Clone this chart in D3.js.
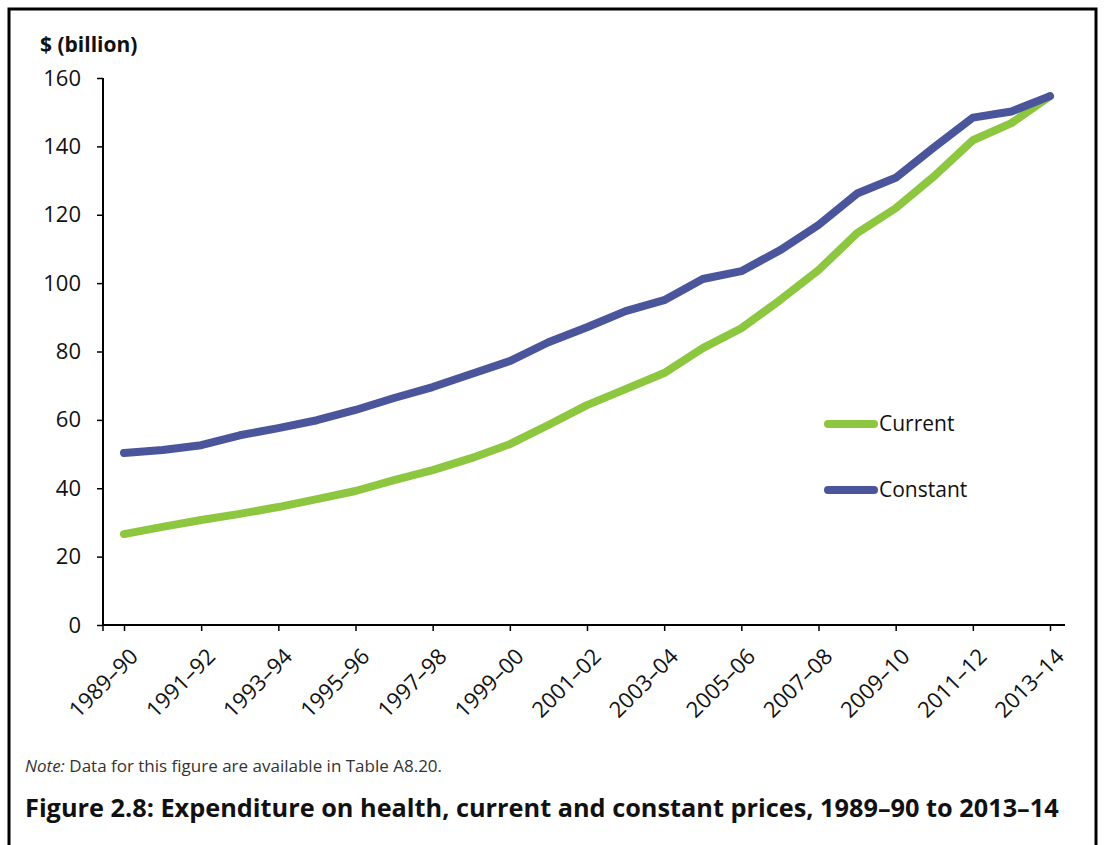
<!DOCTYPE html>
<html>
<head>
<meta charset="utf-8">
<script src="https://cdn.jsdelivr.net/npm/d3@7"></script>
<style>
  body { margin: 0; background: #fff; }
  svg { font-family: "Open Sans", "Noto Sans", sans-serif; }
</style>
</head>
<body>
<div id="chart"></div>
<script>
// years along the x axis
var years = ["1989–90","1990–91","1991–92","1992–93","1993–94","1994–95","1995–96","1996–97",
  "1997–98","1998–99","1999–00","2000–01","2001–02","2002–03","2003–04","2004–05","2005–06",
  "2006–07","2007–08","2008–09","2009–10","2010–11","2011–12","2012–13","2013–14"];

// $ billion
var current = [26.6,28.7,30.7,32.5,34.5,36.8,39.2,42.4,45.3,48.8,52.9,58.5,64.3,69.0,73.7,
  81.0,86.8,95.0,103.8,114.6,121.9,131.3,141.8,146.8,154.7];
var constant = [50.3,51.2,52.6,55.5,57.6,59.9,62.9,66.4,69.6,73.4,77.2,82.7,87.1,91.8,95.0,
  101.2,103.5,109.6,117.0,126.2,130.8,139.8,148.4,150.2,154.7];

var yTicks = [0,20,40,60,80,100,120,140,160];

var width = 1104, height = 845;
var green = "#8dc63f", blue = "#4a559c";
var font = "'Open Sans', 'Noto Sans', sans-serif";

var svg = d3.select("#chart").append("svg")
  .attr("width", width)
  .attr("height", height);

// frame, open at the bottom
svg.append("path")
  .attr("d", "M9,845 V9 H1096 V845")
  .attr("fill", "none")
  .attr("stroke", "#000")
  .attr("stroke-width", 3);

var x = d3.scalePoint().domain(years).range([124, 1050]);
var y = d3.scaleLinear().domain([0, 160]).range([625, 78]);

// y axis
var yAxis = svg.append("g")
  .attr("transform", "translate(103,0)")
  .call(d3.axisLeft(y).tickValues(yTicks).tickSize(6).tickPadding(16))
  .attr("font-family", font);
yAxis.select(".domain").attr("stroke-width", 2).attr("d", "M0,78 V625");
yAxis.selectAll(".tick line").attr("stroke-width", 1.5);
yAxis.selectAll("text").attr("font-size", 22).attr("fill", "#111");

// x axis
var labelled = years.filter(function (d, i) { return i % 2 == 0; });
var xAxis = svg.append("g")
  .attr("transform", "translate(0,625)")
  .call(d3.axisBottom(x).tickValues(labelled).tickSize(6).tickPadding(6))
  .attr("font-family", font);
xAxis.select(".domain").attr("stroke-width", 2).attr("d", "M103,0 H1065");
xAxis.selectAll(".tick line").attr("stroke-width", 1.5);
xAxis.append("line")
  .attr("x1", 103).attr("x2", 103).attr("y1", 0).attr("y2", 6)
  .attr("stroke", "#000").attr("stroke-width", 1.5);
xAxis.selectAll("text")
  .attr("font-size", 22)
  .attr("fill", "#111")
  .attr("text-anchor", "end")
  .attr("dy", "0.35em")
  .attr("transform", "translate(1,19) rotate(-45)");

// lines
var line = d3.line()
  .x(function (d, i) { return x(years[i]); })
  .y(function (d) { return y(d); });

[[current, green], [constant, blue]].forEach(function (s) {
  svg.append("path")
    .datum(s[0])
    .attr("d", line)
    .attr("fill", "none")
    .attr("stroke", s[1])
    .attr("stroke-width", 8)
    .attr("stroke-linecap", "round")
    .attr("stroke-linejoin", "round");
});

// legend
var legend = [["Current", green, 424], ["Constant", blue, 490]];
legend.forEach(function (l) {
  svg.append("line")
    .attr("x1", 828).attr("x2", 874)
    .attr("y1", l[2]).attr("y2", l[2])
    .attr("stroke", l[1]).attr("stroke-width", 8)
    .attr("stroke-linecap", "round");
  svg.append("text")
    .attr("x", 879).attr("y", l[2])
    .attr("dy", "0.35em")
    .attr("font-size", 21)
    .attr("fill", "#111")
    .text(l[0]);
});

// axis title
svg.append("text")
  .attr("x", 40).attr("y", 52)
  .attr("font-size", 21)
  .attr("font-weight", "bold")
  .attr("fill", "#111")
  .text("$ (billion)");

// note and caption
var note = svg.append("text")
  .attr("x", 25).attr("y", 772)
  .attr("font-size", 17)
  .attr("fill", "#333");
note.append("tspan").attr("font-style", "italic").text("Note:");
note.append("tspan").text(" Data for this figure are available in Table A8.20.");

svg.append("text")
  .attr("x", 25).attr("y", 817)
  .attr("font-size", 25.3)
  .attr("font-weight", "bold")
  .attr("fill", "#111")
  .text("Figure 2.8: Expenditure on health, current and constant prices, 1989–90 to 2013–14");
</script>
</body>
</html>
